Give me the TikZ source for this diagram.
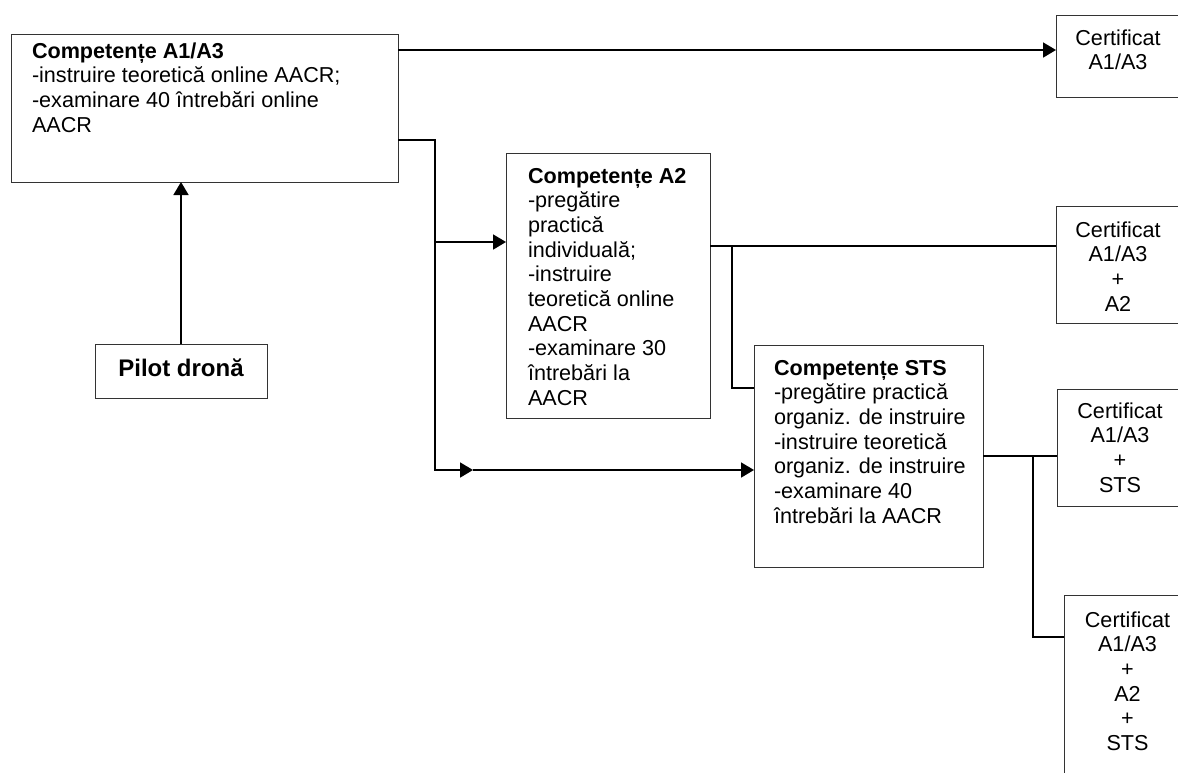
\documentclass[tikz,border=0pt]{standalone}
\usepackage{fontspec}
\setmainfont{Liberation Sans}
\usetikzlibrary{arrows.meta}
\newcommand{\boxtext}[5]{\parbox[c][#2][t]{#1}{#4\rule{0pt}{#3}#5\par}}
\begin{document}
\begin{tikzpicture}[x=0.5pt,y=-0.5pt,
  boxs/.style={draw=black!80, line width=0.5pt, anchor=north west, inner sep=0pt, outer sep=0pt, font=\fontsize{10.8}{12.35}\selectfont},
  conn/.style={line width=0.9pt, draw=black},
  arr/.style={-{Triangle[length=6.5pt,width=7.5pt]}}]
\useasboundingbox (0,0) rectangle (1178,772);
\clip (0,0) rectangle (1178,772);

\node[boxs] (a13) at (11,34) {\boxtext{193.5pt}{74pt}{12pt}{\raggedright\leftskip=10.5pt}{\textbf{Competențe A1/A3}\\-instruire teoretică online AACR;\\-examinare 40 întrebări online\\AACR}};

\node[boxs, font=\bfseries\fontsize{12}{14}\selectfont] (pilot) at (95,344) {\boxtext{86pt}{27pt}{16pt}{\centering}{Pilot dronă}};

\node[boxs] (a2) at (506,153) {\boxtext{102pt}{132.5pt}{15pt}{\raggedright\leftskip=11pt}{\textbf{Competențe A2}\\-pregătire\\practică\\individuală;\\-instruire\\teoretică online\\AACR\\-examinare 30\\întrebări la\\AACR}};

\node[boxs] (sts) at (754,345) {\boxtext{114.5pt}{111pt}{15pt}{\raggedright\leftskip=10pt}{\textbf{Competențe STS}\\-pregătire practică\\organiz. de instruire\\-instruire teoretică\\organiz. de instruire\\-examinare 40\\întrebări la AACR}};

\node[boxs] (c1) at (1056,15) {\boxtext{62pt}{41pt}{15pt}{\centering}{Certificat\\A1/A3}};
\node[boxs] (c2) at (1056,206) {\boxtext{62pt}{58.5pt}{15.5pt}{\centering}{Certificat\\A1/A3\\+\\A2}};
\node[boxs] (c3) at (1057,389) {\boxtext{63pt}{58.5pt}{14.5pt}{\centering}{Certificat\\A1/A3\\+\\STS}};
\node[boxs] (c4) at (1064,595) {\boxtext{63.5pt}{120pt}{16pt}{\centering}{Certificat\\A1/A3\\+\\A2\\+\\STS}};

\coordinate (t1) at (0,50);
\coordinate (j1) at (435,140);
\coordinate (j2) at (435,242);
\coordinate (j3) at (473,470);
\coordinate (j4) at (732,246);
\coordinate (j5) at (732,388);
\coordinate (j6) at (1033,456);
\coordinate (j7) at (1033,637);

\draw[conn,arr] (pilot.north) -- (pilot.north |- a13.south);
\draw[conn,arr] (a13.east |- t1) -- (c1.west |- t1);
\draw[conn] (a13.east |- j1) -- (j1) -- (j2);
\draw[conn,arr] (j2) -- (a2.west |- j2);
\draw[conn,arr] (j2) |- (j3);
\draw[conn,arr] (j3) -- (sts.west |- j3);
\draw[conn] (a2.east |- j4) -- (c2.west |- j4);
\draw[conn] (j4) -- (j5) -- (sts.west |- j5);
\draw[conn] (sts.east |- j6) -- (c3.west |- j6);
\draw[conn] (j6) -- (j7) -- (c4.west |- j7);
\end{tikzpicture}
\end{document}
